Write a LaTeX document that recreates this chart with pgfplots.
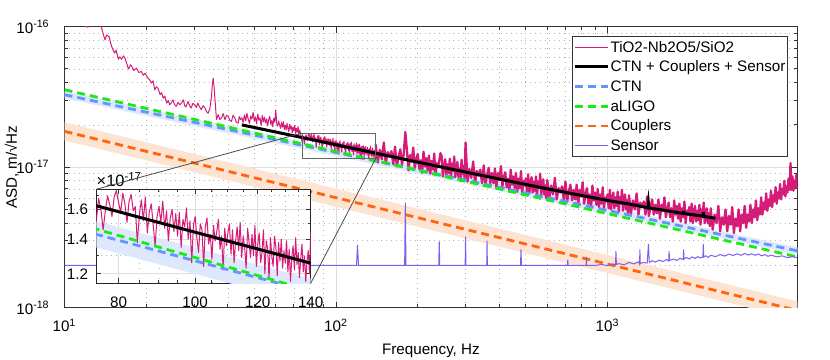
\documentclass[border=0pt]{standalone}
\usepackage{fontspec}
\setmainfont{Liberation Sans}
\usepackage{pgfplots}
\usepackage{pgfplotstable}
\pgfplotsset{compat=1.18}
\definecolor{cpink}{RGB}{212,28,120}
\definecolor{cblue}{RGB}{100,149,255}
\definecolor{cgreen}{RGB}{25,235,25}
\definecolor{corange}{RGB}{255,100,15}
\definecolor{cpurple}{RGB}{125,95,240}
\definecolor{bandblue}{RGB}{222,232,252}
\definecolor{bandorange}{RGB}{253,228,210}
\newcommand\fs{\fontsize{7.6pt}{9pt}\selectfont}
% measured ASD, units of 1e-18 m/sqrt(Hz), 11.5--140 Hz
\pgfplotstableread[row sep=\\]{
f v\\
11.5 160\\ 11.8 128\\ 12.0 101\\ 12.2 99\\ 12.5 118\\ 12.9 135\\ 13.3 112\\ 13.7 97.4\\ 13.9 88\\ 14.1 80.5\\
14.3 87.3\\ 14.6 84.9\\ 14.8 76\\ 15.0 70.3\\ 15.3 64.8\\ 15.5 68\\ 15.8 58.7\\ 16.0 61\\ 16.2 58.7\\ 16.5 62\\
16.7 59.7\\ 17.0 54\\ 17.2 49.9\\ 17.5 53.5\\ 17.7 52.1\\ 18.0 48.8\\ 18.4 50.7\\ 18.8 47.2\\ 19.2 48.0\\ 19.5 45.1\\
19.8 46.7\\ 20.3 43.0\\ 20.6 41.8\\ 20.9 39.7\\ 21.2 41.2\\ 21.5 35.5\\ 21.8 37.4\\ 22.1 36.5\\ 22.5 32.8\\ 22.8 33.9\\
23.1 31.0\\ 23.4 32.1\\ 23.8 28.6\\ 24.1 29.9\\ 24.4 27.8\\ 24.8 28.9\\ 25.1 30.2\\ 25.4 28.0\\ 25.8 27.1\\ 26.2 29.0\\
26.6 27.8\\ 27.0 28.7\\ 27.4 30.2\\ 27.7 27.5\\ 28.0 26.8\\ 28.5 29.4\\ 28.9 27.3\\ 29.3 26.4\\ 29.7 28.5\\ 30.2 27.8\\
30.6 26.6\\ 31.0 28.6\\ 31.4 27.0\\ 31.9 25.7\\ 32.4 27.4\\ 32.9 26.4\\ 33.3 25.0\\ 33.8 24.2\\ 34.3 26.1\\ 34.8 31.9\\
35.0 38\\ 35.3 43.0\\ 35.6 36\\ 35.8 31.0\\ 36.1 25\\ 36.3 21.8\\ 36.8 23.7\\ 37.3 21.9\\ 37.9 22.4\\ 38.4 24.1\\
39.0 21.8\\ 39.5 23.3\\ 40.1 23.0\\ 40.6 21.6\\ 41.2 21.2\\ 41.8 23.5\\ 42.4 22.4\\ 43.0 20.8\\ 43.6 20.6\\ 44.0 22.9\\
44.5 21.8\\
45 22.5\\ 45.5 20.8\\ 46 23.6\\ 46.5 21.4\\ 47 24.2\\ 47.5 21.9\\ 48 20.5\\ 48.5 23.1\\ 49 22.0\\ 49.5 24.6\\
50 21.2\\ 50.5 22.8\\ 51 20.3\\ 51.5 23.9\\ 52 21.6\\ 52.5 22.4\\ 53 19.8\\ 53.5 23.3\\ 54 21.0\\ 54.5 22.7\\
55 20.6\\ 55.5 22.1\\ 56 19.7\\ 56.5 21.8\\ 57 23.0\\ 57.5 20.2\\ 58 21.5\\ 58.5 19.4\\ 59 22.3\\ 59.5 20.9\\
60 25.5\\ 60.5 20.4\\ 61 19.6\\ 61.5 21.3\\ 62 20.0\\ 62.5 18.9\\ 63 20.8\\ 63.5 19.3\\ 64 21.1\\ 64.5 18.6\\
65 19.9\\ 65.5 18.4\\ 66 20.5\\ 66.5 19.0\\ 67 17.9\\ 67.5 20.2\\ 68 18.7\\ 68.5 19.6\\ 69 17.6\\ 69.5 19.3\\
70 18.2\\ 70.5 19.8\\ 71 17.3\\ 71.5 18.9\\ 72 17.8\\ 72.5 19.5\\ 73 16.9\\ 73.5 18.3\\ 74 17.5\\ 74.5 16.4\\
75 15.2\\ 75.5 16.8\\ 76 16.0\\ 76.5 14.6\\ 77 15.9\\ 77.5 17.0\\ 78 16.3\\ 78.5 15.5\\ 79 16.9\\ 79.5 17.4\\
80 16.5\\ 80.5 15.8\\ 81 17.2\\ 81.5 16.4\\ 82 15.1\\ 82.5 16.6\\ 83 17.1\\ 83.5 15.9\\ 84 16.2\\ 84.5 13.8\\
85 15.6\\ 85.5 16.7\\ 86 15.2\\ 86.5 16.9\\ 87 14.4\\ 87.5 15.8\\ 88 16.4\\ 88.5 14.9\\ 89 13.6\\ 89.5 15.5\\
90 16.2\\ 90.5 15.1\\ 91 16.6\\ 91.5 14.7\\ 92 15.9\\ 92.5 13.9\\ 93 15.4\\ 93.5 16.0\\ 94 14.5\\ 94.5 15.7\\
95 14.2\\ 95.5 15.8\\ 96 13.5\\ 96.5 15.3\\ 97 14.8\\ 97.5 16.1\\ 98 14.0\\ 98.5 15.2\\ 99 12.6\\ 99.5 14.9\\
100 15.5\\ 100.5 14.1\\ 101 13.2\\ 101.5 15.0\\ 102 14.6\\ 102.5 12.4\\ 103 14.8\\ 103.5 15.4\\ 104 13.7\\ 104.5 14.3\\
105 12.8\\ 105.5 14.9\\ 106 13.9\\ 106.5 14.5\\ 107 15.3\\ 107.5 13.4\\ 108 14.2\\ 108.5 12.2\\ 109 14.7\\ 109.5 13.6\\
110 14.4\\ 110.5 15.0\\ 111 13.1\\ 111.5 14.6\\ 112 12.6\\ 112.5 13.9\\ 113 14.8\\ 113.5 13.3\\ 114 15.1\\ 114.5 12.9\\
115 14.2\\ 115.5 13.5\\ 116 12.3\\ 116.5 14.7\\ 117 13.8\\ 117.5 12.9\\ 118 14.3\\ 118.5 13.0\\ 119 14.9\\ 119.5 12.4\\
120 13.7\\ 120.5 14.4\\ 121 12.6\\ 121.5 13.2\\ 122 14.6\\ 122.5 12.0\\ 123 13.9\\ 123.5 13.4\\ 124 11.7\\ 124.5 14.1\\
125 13.0\\ 125.5 12.4\\ 126 14.2\\ 126.5 13.5\\ 127 11.9\\ 127.5 13.8\\ 128 12.7\\ 128.5 14.0\\ 129 12.3\\ 129.5 13.3\\
130 12.6\\ 130.5 13.9\\ 131 12.1\\ 131.5 13.4\\ 132 11.6\\ 132.5 12.9\\ 133 13.6\\ 133.5 12.2\\ 134 14.1\\ 134.5 12.5\\
135 13.2\\ 135.5 11.8\\ 136 12.9\\ 136.5 13.7\\ 137 12.1\\ 137.5 13.0\\ 138 11.6\\ 138.5 12.7\\ 139 13.3\\ 139.5 12.0\\
140 14.5\\
}\measlow
% measured ASD, 140--5000 Hz
\pgfplotstableread[row sep=\\]{
f v\\
140 14.5\\ 142.5 10.8\\ 145 13.3\\ 147.5 11.4\\ 150 15.0\\ 152.5 10.6\\ 155 12.8\\ 157.5 11.9\\
160 13.0\\ 162.5 10.5\\ 165 14.0\\ 167.5 10.1\\ 170 11.9\\ 172.5 13.4\\ 175 10.4\\ 177.5 12.3\\
180 17.8\\ 182.5 13.2\\ 185 9.5\\ 187.5 12.2\\ 190 10.9\\ 192.5 13.8\\ 195 9.8\\ 197.5 11.4\\
200 12.4\\ 202.5 9.7\\ 205 11.2\\ 207.5 9.1\\ 210 12.9\\ 212.5 10.1\\ 215 11.6\\ 217.5 9.5\\
220 12.1\\ 222.5 9.0\\ 225 11.1\\ 227.5 9.6\\ 230 12.5\\ 232.5 8.8\\ 235 10.7\\ 237.5 10.0\\
240 11.1\\ 242.5 12.6\\ 245 11.9\\ 247.5 8.6\\ 250 10.1\\ 252.5 11.4\\ 255 8.8\\ 257.5 10.5\\
260 9.1\\ 262.5 11.5\\ 265 8.3\\ 267.5 10.6\\ 270 9.4\\ 272.5 11.9\\ 275 8.5\\ 277.5 9.9\\
280 10.9\\ 282.5 8.5\\ 285 9.8\\ 287.5 8.0\\ 290 11.3\\ 292.5 8.9\\ 295 10.2\\ 297.5 8.3\\
300 15.0\\ 305 7.9\\ 310 9.7\\ 315 8.4\\ 320 11.0\\ 325 7.7\\ 330 9.4\\ 335 8.7\\
340 9.6\\ 345 7.7\\ 350 10.3\\ 355 7.5\\ 360 8.8\\ 365 9.9\\ 370 7.7\\ 375 9.1\\
380 7.7\\ 385 9.8\\ 390 7.1\\ 395 9.1\\ 400 8.1\\ 405 10.2\\ 410 7.3\\ 415 8.5\\
420 9.2\\ 425 7.2\\ 430 8.3\\ 435 6.7\\ 440 9.6\\ 445 7.5\\ 450 8.6\\ 455 7.1\\
460 9.1\\ 465 6.7\\ 470 8.3\\ 475 7.1\\ 480 9.4\\ 485 6.6\\ 490 8.0\\ 495 7.4\\
500 8.3\\ 505 6.7\\ 510 8.9\\ 515 6.5\\ 520 7.6\\ 525 8.5\\ 530 6.6\\ 535 7.9\\
540 6.8\\ 545 8.6\\ 550 6.2\\ 555 7.9\\ 560 7.1\\ 565 9.0\\ 570 6.4\\ 575 7.4\\
580 8.2\\ 585 6.4\\ 590 7.4\\ 595 6.0\\
600 8.1\\ 610 6.0\\ 620 7.4\\ 630 6.4\\ 640 8.4\\ 650 5.9\\ 660 7.1\\ 670 6.6\\
680 7.3\\ 690 5.9\\ 700 7.9\\ 710 5.7\\ 720 6.7\\ 730 7.5\\ 740 5.8\\ 750 6.9\\
760 5.9\\ 770 7.5\\ 780 5.4\\ 790 6.9\\ 800 6.2\\ 810 7.8\\ 820 5.5\\ 830 6.5\\
840 7.1\\ 850 5.5\\ 860 6.4\\ 870 5.2\\ 880 7.4\\ 890 5.8\\ 900 6.6\\ 910 5.4\\
920 7.0\\ 930 5.2\\ 940 6.4\\ 950 5.5\\ 960 7.2\\ 970 5.1\\ 980 6.1\\ 990 5.7\\
1000 6.4\\ 1010 5.1\\ 1020 6.9\\ 1030 5.0\\ 1040 5.8\\ 1050 6.6\\ 1060 5.1\\ 1070 6.1\\
1080 5.3\\ 1090 6.7\\ 1100 4.8\\ 1110 6.1\\ 1120 5.5\\ 1130 6.9\\ 1140 4.9\\ 1150 5.8\\
1160 6.4\\ 1170 5.0\\ 1180 5.8\\ 1190 4.7\\
1200 6.3\\ 1220 4.7\\ 1240 5.8\\ 1260 5.0\\ 1280 6.5\\ 1300 4.6\\ 1320 5.6\\ 1340 5.2\\
1360 5.7\\ 1380 4.6\\ 1400 6.2\\ 1420 4.5\\ 1440 5.2\\ 1460 5.9\\ 1480 4.6\\ 1500 5.4\\
1520 4.7\\ 1540 5.9\\ 1560 4.3\\ 1580 5.4\\ 1600 4.9\\ 1620 6.1\\ 1640 4.4\\ 1660 5.1\\
1680 5.6\\ 1700 4.4\\ 1720 5.1\\ 1740 4.1\\ 1760 5.8\\ 1780 4.6\\ 1800 5.3\\ 1820 4.3\\
1840 5.5\\ 1860 4.1\\ 1880 5.1\\ 1900 4.4\\ 1920 5.7\\ 1940 4.0\\ 1960 4.9\\ 1980 4.6\\
2000 5.2\\ 2020 4.1\\ 2040 5.5\\ 2060 4.0\\ 2080 4.7\\ 2100 5.3\\ 2120 4.1\\ 2140 4.9\\
2160 4.2\\ 2180 5.4\\ 2200 3.9\\ 2220 5.0\\ 2240 4.4\\ 2260 5.6\\ 2280 4.0\\ 2300 4.6\\
2320 5.1\\ 2340 4.0\\ 2360 4.7\\ 2380 3.8\\
2400 5.1\\ 2440 3.6\\ 2480 4.6\\ 2520 4.0\\ 2560 5.3\\ 2600 3.5\\ 2640 4.4\\ 2680 3.9\\
2720 5.0\\ 2760 3.5\\ 2800 4.5\\ 2840 3.9\\ 2880 5.2\\ 2920 3.4\\ 2960 4.3\\ 3000 3.8\\
3040 5.0\\ 3080 3.5\\ 3120 4.6\\ 3160 4.0\\ 3200 5.3\\ 3240 3.7\\ 3280 4.6\\ 3320 4.1\\
3360 5.4\\ 3400 4.0\\ 3440 5.0\\ 3480 4.4\\ 3520 5.8\\ 3560 4.2\\ 3600 5.1\\ 3640 4.6\\
3680 6.1\\ 3720 4.6\\ 3760 5.6\\ 3800 5.0\\ 3840 6.5\\ 3880 4.9\\ 3920 5.9\\ 3960 5.3\\
4000 6.8\\ 4040 5.2\\ 4080 6.3\\ 4120 5.7\\ 4160 7.2\\ 4200 5.5\\ 4240 6.6\\ 4280 6.0\\
4320 7.6\\ 4360 5.9\\ 4400 7.0\\ 4440 6.4\\ 4480 8.0\\ 4520 6.2\\ 4560 7.3\\ 4600 6.6\\
4640 8.3\\ 4680 6.9\\ 4720 10.7\\ 4760 6.9\\ 4800 8.6\\ 4840 6.8\\ 4880 8.0\\ 4920 7.2\\
4960 8.8\\ 5000 7.0\\
}\meashigh
\begin{document}
\begin{tikzpicture}[font=\fs]
\path[use as bounding box] (-32.25pt,-25.65pt) rectangle (382.75pt,153.85pt);
\begin{axis}[
  name=main, at={(0pt,0pt)}, anchor=south west,
  scale only axis, width=366.4pt, height=140.5pt,
  xmode=log, ymode=log, xmin=10, xmax=5000, ymin=1, ymax=100,
  xtick={10,100,1000}, xticklabels={10\textsuperscript{1},10\textsuperscript{2},10\textsuperscript{3}},
  ytick={1,10,100}, yticklabels={10\textsuperscript{-18},10\textsuperscript{-17},10\textsuperscript{-16}},
  grid=both,
  major grid style={black!13, line width=0.4pt},
  minor grid style={black!30, dotted, line width=0.4pt},
  axis line style={black!80, line width=0.5pt},
  tick style={black!80, line width=0.5pt},
  major tick length=3pt, minor tick length=1.7pt,
  xticklabel style={yshift=-2pt}, yticklabel style={xshift=-3.9pt},
  xlabel={Frequency, Hz}, ylabel={ASD, m/√Hz},
  every axis x label/.style={at={(axis description cs:0.5,0)}, anchor=north, yshift=-14.6pt},
  every axis y label/.style={at={(axis description cs:-0.072,0.5)}, rotate=90, anchor=center, inner sep=0pt},
  legend style={at={(1,1)}, anchor=north east, xshift=-4.5pt, yshift=-4.5pt,
    draw=black!80, line width=0.5pt, fill=white, inner sep=0.6pt, row sep=0pt,
    nodes={inner sep=0.6pt, text height=6.8pt, text depth=1.85pt}},
  legend cell align=left,
  legend image code/.code={\draw[#1] (0pt,0pt) -- (16.3pt,0pt);},
]
\addplot[draw=none, fill=bandblue, forget plot] coordinates {(10,34.8) (5000,2.69) (5000,2.40) (10,30.9)} -- cycle;
\addplot[draw=none, fill=bandorange, forget plot] coordinates {(10,20.9) (5000,1.109) (5000,0.824) (10,15.5)} -- cycle;
\addplot[cpink, line width=1.15pt, line join=round, forget plot] table[x=f, y=v] {\meashigh};
\addplot[cpink, line width=0.5pt, line join=round] table[x=f, y=v] {\measlow};
\addlegendentry{TiO2-Nb2O5/SiO2}
\addplot[black, line width=1.5pt] coordinates {(45,20.0) (75,16.26) (140,12.58) (200,10.87) (300,9.24) (400,8.23) (600,7.02) (800,6.30) (1000,5.8) (1200,5.47) (1410,5.14) (1415,5.49) (1420,5.13) (1600,4.95) (1800,4.77) (1903,4.69) (1907,4.89) (1911,4.68) (2200,4.51) (2249,4.48) (2253,4.79) (2257,4.47) (2495,4.33)};
\addlegendentry{CTN + Couplers + Sensor}
\addplot[cblue, line width=1.4pt, dash pattern=on 4pt off 2.5pt] coordinates {(10,32.8) (5000,2.54)};
\addlegendentry{CTN}
\addplot[cgreen, line width=1.4pt, dash pattern=on 4pt off 2.5pt] coordinates {(10,35.6) (5000,2.3)};
\addlegendentry{aLIGO}
\addplot[corange, line width=1.4pt, dash pattern=on 4pt off 2.5pt] coordinates {(10,18.0) (5000,0.956)};
\addlegendentry{Couplers}
\addplot[cpurple, line width=0.5pt] coordinates {(10,2.0) (119,2.0) (120,2.8) (121,2.0) (179,2.0) (180,5.6) (181,2.0) (239,2.0) (240,2.95) (241,2.0) (299,2.0) (300,3.2) (301,2.0) (359,2.0) (360,3.0) (361,2.0) (478,2.0) (480,2.6) (482,2.0) (712,2.0) (714,2.2) (716,2.0) (834,2.0) (836,2.3) (838,2.0) (900,2.0) (950,2.03) (1000,1.99) (1050,2.05) (1070,2.01) (1074,2.53) (1078,2.03) (1100,2.06) (1150,2.02) (1200,2.1) (1250,2.05) (1300,2.12) (1312,2.04) (1316,2.6) (1320,2.06) (1350,2.1) (1400,2.08) (1415,2.83) (1425,2.1) (1460,2.16) (1500,2.11) (1550,2.18) (1600,2.13) (1650,2.2) (1680,2.15) (1686,2.53) (1692,2.17) (1750,2.22) (1800,2.17) (1850,2.25) (1900,2.2) (1907,2.6) (1914,2.22) (1950,2.28) (2000,2.22) (2050,2.3) (2100,2.24) (2150,2.31) (2200,2.26) (2245,2.3) (2253,2.83) (2261,2.29) (2300,2.34) (2350,2.28) (2400,2.36) (2500,2.31) (2600,2.39) (2700,2.33) (2800,2.41) (2900,2.35) (3000,2.42) (3100,2.36) (3200,2.43) (3300,2.37) (3400,2.42) (3500,2.36) (3600,2.41) (3700,2.34) (3800,2.39) (3900,2.32) (4000,2.37) (4200,2.3) (4400,2.34) (4600,2.27) (4800,2.31) (5000,2.27)};
\addlegendentry{Sensor}
\draw[black!60, line width=0.5pt] (axis cs:75,11.5) rectangle (axis cs:140,17.5);
\coordinate (rtl) at (axis cs:75,17.5);
\coordinate (rbr) at (axis cs:140,11.5);
\end{axis}
\begin{axis}[
  name=inset, at={(15.9pt,12.2pt)}, anchor=south west,
  scale only axis, width=107.2pt, height=47pt,
  xmode=log, ymode=log, xmin=75, xmax=140, ymin=11.5, ymax=17.5,
  xtick={80,100,120,140}, xticklabels={80,100,120,140},
  minor xtick={85,90,95,105,110,115,125,130,135},
  ytick={12,14,16}, yticklabels={1.2,1.4,1.6},
  minor ytick={13,15,17},
  grid=both,
  major grid style={black!13, line width=0.4pt},
  minor grid style={black!30, dotted, line width=0.4pt},
  axis line style={black!85, line width=0.5pt},
  tick style={black!80, line width=0.5pt},
  major tick length=2.5pt, minor tick length=1.5pt,
  axis background/.style={fill=white},
  xticklabel style={yshift=-3.3pt}, yticklabel style={xshift=-0.6pt},
]
\addplot[draw=none, fill=bandblue] coordinates {(10,34.8) (5000,2.69) (5000,2.40) (10,30.9)} -- cycle;
\addplot[cpink, line width=0.5pt, line join=round] table[x=f, y=v] {\measlow};
\addplot[black, line width=1.5pt] coordinates {(45,20.0) (75,16.26) (140,12.58) (200,10.87)};
\addplot[cblue, line width=1.4pt, dash pattern=on 4pt off 2.5pt] coordinates {(10,32.8) (5000,2.54)};
\addplot[cgreen, line width=1.4pt, dash pattern=on 4pt off 2.5pt] coordinates {(10,35.6) (5000,2.3)};
\end{axis}
\node[anchor=south west, inner sep=0pt, font=\fontsize{8.2pt}{9pt}\selectfont] at ([yshift=1.2pt]inset.north west) {×10\textsuperscript{-17}};
\draw[black!70, line width=0.4pt] (inset.north west) -- (rtl);
\draw[black!70, line width=0.4pt] (inset.south east) -- (rbr);
\end{tikzpicture}
\end{document}
